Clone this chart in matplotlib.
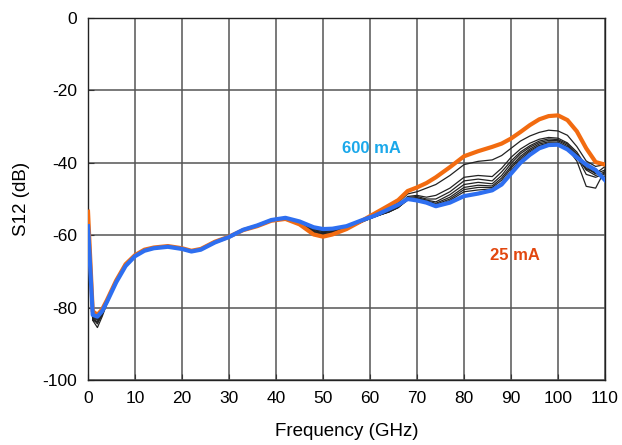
import numpy as np
import matplotlib.pyplot as plt

plt.rcParams['font.family'] = ['Liberation Sans', 'DejaVu Sans']
plt.rcParams['axes.unicode_minus'] = False

# Frequency points (GHz)
freq = [0, 1, 2, 3, 4, 6, 8, 10, 12, 14, 17, 20, 22, 24, 27, 30, 33, 36, 39, 42,
        45, 48, 50, 52, 55, 58, 61, 64, 66, 68, 70, 72, 74, 77, 80, 83, 86, 88, 90,
        92, 94, 96, 98, 100, 102, 104, 106, 108, 110]

# S12 (dB) at 600 mA
s12_600 = [-57.5, -82.0, -82.5, -81.0, -78.5, -73.0, -68.5, -65.8, -64.3, -63.6,
           -63.2, -63.8, -64.5, -64.0, -62.0, -60.5, -58.5, -57.3, -55.8, -55.2,
           -56.2, -57.8, -58.3, -58.2, -57.5, -56.0, -54.6, -52.8, -51.6, -50.0,
           -50.4, -51.0, -52.0, -51.0, -49.2, -48.5, -47.6, -46.0, -43.0, -40.0,
           -37.8, -36.0, -35.1, -35.0, -36.3, -38.5, -40.5, -42.0, -44.8]

# S12 (dB) at 25 mA
s12_25 = [-53.5, -81.0, -82.0, -80.5, -78.0, -72.5, -68.0, -65.5, -64.0, -63.4,
          -63.0, -63.6, -64.3, -63.8, -61.8, -60.4, -58.6, -57.5, -56.0, -55.5,
          -57.0, -59.8, -60.4, -59.8, -58.3, -56.2, -54.0, -51.8, -50.3, -47.8,
          -46.8, -45.6, -44.0, -41.2, -38.2, -36.8, -35.6, -34.7, -33.3, -31.5,
          -29.6, -28.0, -27.1, -26.9, -28.2, -31.3, -36.0, -39.8, -40.5]

# intermediate bias currents
s12_mid1 = [-50.0, -83.5, -85.5, -82.5, -79.0, -73.0, -68.3, -65.6, -64.2, -63.5,
            -63.1, -63.7, -64.4, -63.9, -61.9, -60.5, -58.6, -57.4, -55.9, -55.4,
            -56.8, -59.2, -59.8, -59.4, -58.2, -56.4, -54.5, -52.6, -51.0, -48.6,
            -48.0, -47.0, -46.0, -43.5, -40.5, -39.6, -39.2, -38.0, -36.0, -34.0,
            -32.6, -31.6, -31.0, -31.2, -32.4, -35.5, -39.5, -41.0, -40.5]
s12_mid2 = [-52.0, -83.0, -84.5, -82.0, -78.8, -73.2, -68.4, -65.7, -64.2, -63.5,
            -63.2, -63.8, -64.5, -64.0, -62.0, -60.6, -58.7, -57.4, -56.0, -55.4,
            -56.7, -59.0, -59.6, -59.3, -58.2, -56.5, -54.8, -53.2, -51.8, -49.3,
            -49.0, -49.5, -49.0, -47.0, -44.0, -43.5, -43.8, -41.5, -38.5, -36.2,
            -34.6, -33.5, -33.0, -33.2, -34.5, -37.0, -41.0, -43.0, -42.0]
s12_mid3 = [-54.0, -83.0, -84.0, -81.8, -78.6, -73.1, -68.5, -65.8, -64.3, -63.6,
            -63.2, -63.8, -64.5, -64.0, -62.1, -60.6, -58.7, -57.5, -56.0, -55.4,
            -56.6, -58.9, -59.5, -59.2, -58.1, -56.5, -54.9, -53.4, -52.0, -49.6,
            -49.3, -50.0, -50.0, -48.0, -45.0, -44.5, -45.0, -42.5, -39.5, -37.0,
            -35.3, -34.0, -33.4, -33.6, -34.8, -37.5, -41.5, -43.0, -41.0]
s12_mid4 = [-55.0, -82.8, -83.5, -81.5, -78.5, -73.0, -68.5, -65.8, -64.3, -63.6,
            -63.2, -63.8, -64.5, -64.0, -62.1, -60.6, -58.6, -57.4, -55.9, -55.3,
            -56.5, -58.7, -59.3, -59.0, -58.0, -56.4, -54.9, -53.5, -52.2, -49.9,
            -49.6, -50.3, -50.8, -48.8, -46.0, -45.4, -45.8, -43.5, -40.2, -37.5,
            -35.7, -34.4, -33.8, -33.9, -35.2, -38.0, -42.0, -43.5, -42.5]
s12_mid5 = [-56.0, -82.5, -83.2, -81.3, -78.5, -73.0, -68.5, -65.8, -64.3, -63.6,
            -63.2, -63.8, -64.5, -64.0, -62.0, -60.5, -58.6, -57.4, -55.9, -55.3,
            -56.4, -58.5, -59.0, -58.8, -57.9, -56.3, -54.9, -53.6, -52.3, -50.1,
            -49.8, -50.5, -51.2, -49.5, -46.8, -46.2, -46.4, -44.2, -41.0, -38.2,
            -36.2, -34.8, -34.2, -34.3, -35.6, -38.3, -43.2, -44.0, -43.0]
s12_mid6 = [-53.0, -83.5, -84.0, -81.6, -78.6, -73.1, -68.5, -65.8, -64.3, -63.6,
            -63.2, -63.8, -64.5, -64.0, -62.0, -60.5, -58.6, -57.4, -55.9, -55.3,
            -56.3, -58.3, -58.9, -58.7, -57.8, -56.2, -54.8, -53.6, -52.4, -50.2,
            -50.0, -50.8, -51.5, -50.0, -47.4, -46.8, -46.8, -44.8, -41.5, -38.7,
            -36.6, -35.2, -34.5, -34.6, -36.0, -39.5, -46.5, -47.0, -42.0]
s12_mid7 = [-57.0, -82.5, -83.0, -81.2, -78.5, -73.0, -68.5, -65.8, -64.3, -63.6,
            -63.2, -63.8, -64.5, -64.0, -62.0, -60.5, -58.5, -57.3, -55.8, -55.2,
            -56.2, -58.1, -58.6, -58.5, -57.7, -56.1, -54.7, -53.5, -52.3, -50.3,
            -50.1, -51.0, -51.8, -50.4, -48.0, -47.5, -47.2, -45.5, -42.2, -39.2,
            -37.0, -35.5, -34.8, -34.8, -36.1, -38.6, -41.8, -42.5, -44.0]

mid_curves = [s12_mid1, s12_mid2, s12_mid3, s12_mid4, s12_mid5, s12_mid6, s12_mid7]

fig = plt.figure(figsize=(6.22, 4.45), dpi=100)
ax = fig.add_axes([0.1415, 0.146, 0.8312, 0.8136])

# intermediate currents in thin black
for curva in mid_curves:
    ax.plot(freq, curva, color='#222222', linewidth=0.9, zorder=3)

ax.plot(freq, s12_25, color='#F26B10', linewidth=3.0, zorder=4,
        solid_joinstyle='round')
ax.plot(freq, s12_600, color='#2E6FF0', linewidth=3.0, zorder=5,
        solid_joinstyle='round')

ax.text(60.2, -36.0, '600 mA', color='#1AA8EA', fontsize=12, fontweight='bold',
        ha='center', va='center')
ax.text(90.9, -65.5, '25 mA', color='#E2470F', fontsize=12, fontweight='bold',
        ha='center', va='center')

ax.set_xlim(0, 110)
ax.set_ylim(-100, 0)
ax.set_xticks(np.arange(0, 111, 10))
ax.set_yticks(np.arange(-100, 1, 20))
ax.grid(True, color='#555555', linewidth=1.1, zorder=1)
ax.set_axisbelow(True)
ax.tick_params(direction='in', length=4, labelsize=12.5, color='#333333')
ax.tick_params(axis='x', pad=8)
ax.tick_params(axis='y', pad=8)

for spine in ax.spines.values():
    spine.set_color('#222222')
    spine.set_linewidth(1.0)

ax.set_xlabel('Frequency (GHz)', fontsize=13.5, labelpad=12)
ax.set_ylabel('S12 (dB)', fontsize=13.5, labelpad=9)

fig.savefig('out.png', dpi=100)
